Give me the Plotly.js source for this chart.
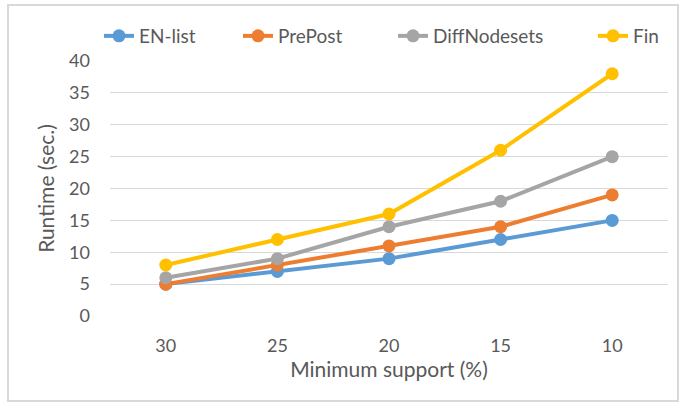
<!DOCTYPE html>
<html>
<head>
<meta charset="utf-8">
<script src="https://cdn.plot.ly/plotly-3.0.1.min.js"></script>
<style>
  html, body { margin: 0; padding: 0; background: #fff; }
  #wrap { position: relative; width: 679px; height: 403px; }
  #chart { width: 679px; height: 403px; }
  #frame { position: absolute; left: 7px; top: 4px; width: 668px; height: 394px;
           border: 2px solid #d9d9d9; pointer-events: none; }
</style>
</head>
<body>
<div id="wrap">
  <div id="chart"></div>
  <div id="frame"></div>
</div>
<script>
const categories = ['30', '25', '20', '15', '10'];
const enList = [5, 7, 9, 12, 15];
const prePost = [5, 8, 11, 14, 19];
const diffNodesets = [6, 9, 14, 18, 25];
const fin = [8, 12, 16, 26, 38];
const seriesNames = ['EN-list', 'PrePost', 'DiffNodesets', 'Fin'];
const colors = ['#5B9BD5', '#ED7D31', '#A5A5A5', '#FFC000'];
const yTicks = [0, 5, 10, 15, 20, 25, 30, 35, 40];

const seriesValues = [enList, prePost, diffNodesets, fin];
const legendIds = ['legend', 'legend2', 'legend3', 'legend4'];
const legendX = [-0.0197, 0.2294, 0.5072, 0.8656];

const traces = seriesValues.map((vals, i) => ({
  type: 'scatter',
  mode: 'lines+markers',
  name: seriesNames[i],
  x: categories,
  y: vals,
  line: { color: colors[i], width: 4 },
  marker: { color: colors[i], size: 13 },
  legend: legendIds[i],
  cliponaxis: false
}));

const font = 'Lato, "Open Sans", sans-serif';
const layout = {
  width: 679,
  height: 403,
  margin: { l: 110, r: 11, t: 61, b: 87 },
  paper_bgcolor: '#ffffff',
  plot_bgcolor: '#ffffff',
  font: { family: font, color: '#595959', size: 18 },
  xaxis: {
    type: 'category',
    range: [-0.5, 4.5],
    showgrid: false,
    zeroline: false,
    showline: false,
    ticks: '',
    ticklabelstandoff: 17,
    tickfont: { size: 18, color: '#595959' },
    title: { text: 'Minimum support (%)', font: { size: 21, color: '#595959' }, standoff: 5 }
  },
  yaxis: {
    range: [0, 40],
    tickvals: yTicks,
    showgrid: true,
    gridcolor: '#d9d9d9',
    gridwidth: 1,
    zeroline: false,
    showline: false,
    ticks: '',
    ticklabelstandoff: 19,
    tickfont: { size: 18, color: '#595959' },
    title: { text: 'Runtime (sec.)', font: { size: 21, color: '#595959' }, standoff: 8 }
  },
  showlegend: true
};
legendIds.forEach((id, i) => {
  layout[id] = {
    orientation: 'h',
    x: legendX[i],
    xanchor: 'left',
    y: 1.098,
    yanchor: 'middle',
    bgcolor: 'rgba(0,0,0,0)',
    font: { size: 19, color: '#595959', family: font }
  };
});

Plotly.newPlot('chart', traces, layout, { displayModeBar: false, staticPlot: true });
</script>
</body>
</html>
